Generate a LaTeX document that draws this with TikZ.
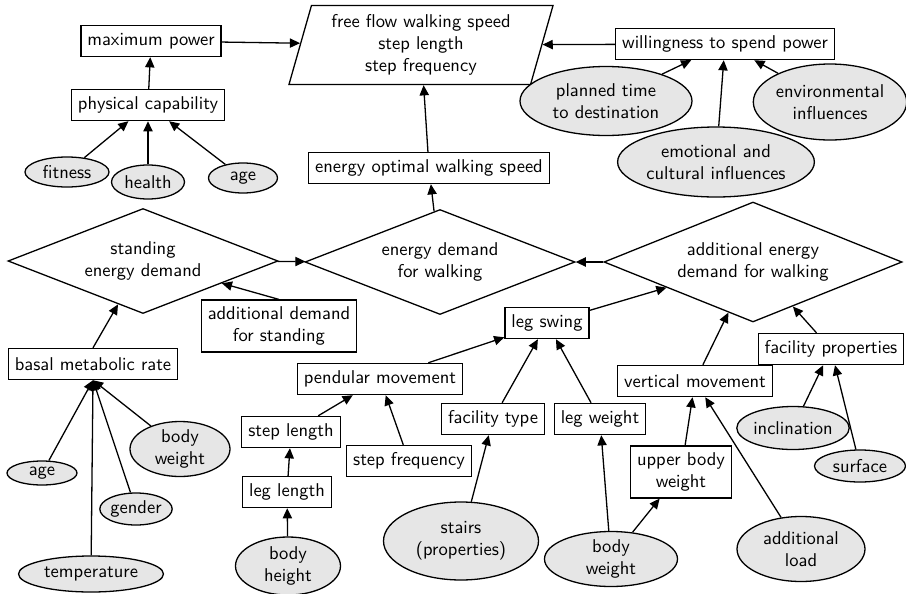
\documentclass[tikz,border=0pt]{standalone}
\usepackage{tikz}
\usetikzlibrary{shapes.geometric, arrows.meta}
\definecolor{ovalgray}{RGB}{230,230,230}

\begin{document}
\begin{tikzpicture}[x=0.54pt, y=-0.54pt, font=\sffamily, line width=0.7pt,
  box/.style={draw, rectangle, minimum height=16.8pt, inner sep=3.5pt, align=center},
  oval/.style={draw, ellipse, fill=ovalgray, inner sep=0pt, align=center},
  osize/.style 2 args={minimum width=#1*0.54pt, minimum height=#2*0.54pt},
  demand/.style={draw, diamond, aspect=2.5, inner sep=0pt, align=center},
  dep/.style={-{Triangle[length=5.5pt,width=5pt]}},
]
\useasboundingbox (0,0) rectangle (906,594);

% power side
\node[box] (maxpow) at (151,41) {maximum power};
\node[box] (physcap) at (148,105) {physical capability};
\node[oval, osize={84}{30}] (fitness) at (67,172) {fitness};
\node[oval, osize={73}{34}] (health) at (148,182) {health};
\node[oval, osize={69}{30}] (age1) at (243,178) {age};

\node[draw, trapezium, trapezium left angle=73, trapezium right angle=107,
  trapezium stretches body, minimum width=142.6pt, minimum height=42.7pt,
  align=center] (flow) at (421,45) {free flow walking speed\\step length\\step frequency};

\node[box] (will) at (725,44) {willingness to spend power};
\node[oval, osize={172}{69}] (planned) at (606,101) {planned time\\to destination};
\node[oval, osize={196}{70}] (emotion) at (716,162) {emotional and\\cultural influences};
\node[oval, osize={153}{76}] (environ) at (830,102) {environmental\\influences};

% energy side
\node[box] (eows) at (429,168) {energy optimal walking speed};
\node[demand, minimum width=145.8pt, minimum height=56.7pt] (stand) at (143,261) {standing\\energy demand};
\node[demand, minimum width=145.8pt, minimum height=56.7pt] (edw) at (440,262) {energy demand\\for walking};
\node[demand, minimum width=161pt, minimum height=64.8pt] (aedw) at (753,262) {additional energy\\demand for walking};

\node[box] (ads) at (279,326) {additional demand\\for standing};
\node[box] (bmr) at (93,364) {basal metabolic rate};
\node[oval, osize={70}{24}] (age2) at (42,473) {age};
\node[oval, osize={145}{36}] (temp) at (91,574) {temperature};
\node[oval, osize={64}{32}] (gender) at (136,509) {gender};
\node[oval, osize={100}{55}] (bw1) at (180,449) {body\\weight};

% walking movement
\node[box] (pend) at (380,379) {pendular movement};
\node[box] (steplen) at (291,432) {step length};
\node[box] (leglen) at (287,492) {leg length};
\node[oval, osize={105}{58}] (bheight) at (288,566) {body\\height};
\node[box] (stepfreq) at (409,461) {step frequency};
\node[box] (factype) at (493,419) {facility type};
\node[box] (legweight) at (600,419) {leg weight};
\node[box] (legswing) at (547,323) {leg swing};
\node[oval, osize={155}{78}] (stairs) at (461,541) {stairs\\(properties)};
\node[oval, osize={133}{53}] (bw2) at (611,559) {body\\weight};
\node[box] (ubw) at (681,472) {upper body\\weight};
\node[box] (vert) at (695,381) {vertical movement};
\node[box] (facprop) at (831,349) {facility properties};
\node[oval, osize={109}{43}] (incl) at (793,428) {inclination};
\node[oval, osize={91}{32}] (surface) at (860,466) {surface};
\node[oval, osize={128}{65}] (load) at (801,549) {additional\\load};

% dependencies
\draw[dep] (physcap) -- (maxpow);
\draw[dep] (fitness) -- (physcap);
\draw[dep] (health) -- (physcap);
\draw[dep] (age1) -- (physcap);
\draw[dep] (maxpow) -- (flow);
\draw[dep] (will) -- (flow);
\draw[dep] (planned) -- (will);
\draw[dep] (emotion) -- (will);
\draw[dep] (environ) -- (will);
\draw[dep] (eows) -- (flow);
\draw[dep] (edw) -- (eows);
\draw[dep] (stand) -- (edw);
\draw[dep] (aedw) -- (edw);
\draw[dep] (ads.north) -- (stand);
\draw[dep] (bmr.north) -- (stand);
\draw[dep] (age2) -- (bmr.south);
\draw[dep] (temp) -- (bmr.south);
\draw[dep] (gender) -- (bmr.south);
\draw[dep] (bw1) -- (bmr.south);
\draw[dep] (pend) -- (legswing);
\draw[dep] (steplen) -- (pend);
\draw[dep] (leglen) -- (steplen);
\draw[dep] (bheight) -- (leglen);
\draw[dep] (stepfreq) -- (pend);
\draw[dep] (factype) -- (legswing);
\draw[dep] (legweight) -- (legswing);
\draw[dep] (stairs) -- (factype);
\draw[dep] (bw2) -- (legweight);
\draw[dep] (bw2) -- (ubw);
\draw[dep] (legswing) -- (aedw);
\draw[dep] (ubw) -- (vert);
\draw[dep] (load) -- (vert);
\draw[dep] (vert) -- (aedw);
\draw[dep] (facprop) -- (aedw);
\draw[dep] (incl) -- (facprop);
\draw[dep] (surface) -- (facprop);
\end{tikzpicture}
\end{document}
